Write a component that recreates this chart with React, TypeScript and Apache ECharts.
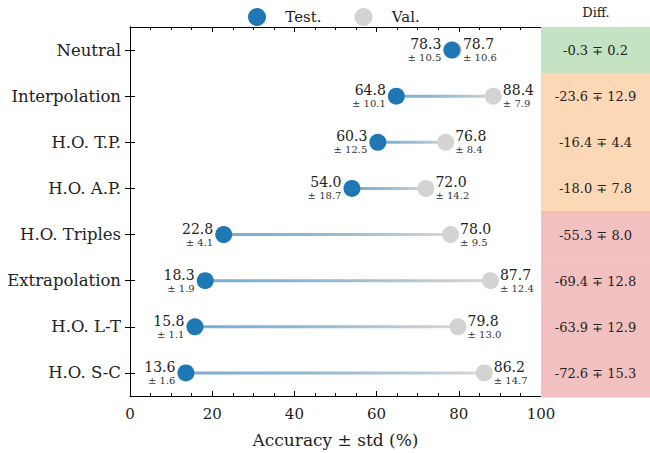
import React, { useEffect, useRef } from "react";
import * as echarts from "echarts";

const categories = ["Neutral", "Interpolation", "H.O. T.P.", "H.O. A.P.", "H.O. Triples", "Extrapolation", "H.O. L-T", "H.O. S-C"];
const testMean = [78.3, 64.8, 60.3, 54.0, 22.8, 18.3, 15.8, 13.6];
const testStd = [10.5, 10.1, 12.5, 18.7, 4.1, 1.9, 1.1, 1.6];
const valMean = [78.7, 88.4, 76.8, 72.0, 78.0, 87.7, 79.8, 86.2];
const valStd = [10.6, 7.9, 8.4, 14.2, 9.5, 12.4, 13.0, 14.7];
const diffMean = [-0.3, -23.6, -16.4, -18.0, -55.3, -69.4, -63.9, -72.6];
const diffStd = [0.2, 12.9, 4.4, 7.8, 8.0, 12.8, 12.9, 15.3];
const diffGroup = ["ok", "mid", "mid", "mid", "bad", "bad", "bad", "bad"];
const xTicks = [0, 20, 40, 60, 80, 100];

const SERIF = "DejaVu Serif";
const BLUE = "#1f77b4";
const GREY = "#d3d3d3";
const groupColor: Record<string, string> = { ok: "#c3e3c3", mid: "#fdd8b6", bad: "#f2c0c0" };

export default function App() {
  const ref = useRef<HTMLDivElement>(null);
  useEffect(() => {
    if (!ref.current) return;
    const chart = echarts.init(ref.current, null, { renderer: "svg" });
    const axisLine = { show: true, lineStyle: { color: "#000", width: 1 } };
    const option: any = {
      animation: false,
      backgroundColor: "#fff",
      textStyle: { fontFamily: SERIF },
      legend: {
        data: ["Test.", "Val."],
        top: 3,
        left: 243,
        icon: "circle",
        itemWidth: 18,
        itemHeight: 18,
        itemGap: 33,
        formatter: (n: string) => "   " + n,
        textStyle: { fontFamily: SERIF, fontSize: 15, color: "#222" },
      },
      graphic: [
        { type: "text", x: 596, y: 6, style: { text: "Diff.", fontFamily: SERIF, fontSize: 13, fill: "#222", textAlign: "center" } },
      ],
      grid: [
        { left: 130, right: 109, top: 27, bottom: 56 },
        { left: 541, right: 0, top: 27, bottom: 56 },
      ],
      xAxis: [
        {
          type: "value", gridIndex: 0, min: 0, max: 100, interval: 20,
          axisLine, axisTick: { show: true, inside: true, length: 5, lineStyle: { color: "#000" } },
          minorTick: { show: true, splitNumber: 4, length: 3, lineStyle: { color: "#000" } },
          splitLine: { show: false },
          axisLabel: { fontFamily: SERIF, fontSize: 15, color: "#222", margin: 10, customValues: xTicks },
          name: "Accuracy ± std (%)", nameLocation: "middle", nameGap: 35,
          nameTextStyle: { fontFamily: SERIF, fontSize: 17, color: "#222" },
        },
        {
          type: "value", gridIndex: 0, min: 0, max: 100, interval: 20, position: "top",
          axisLine, axisTick: { show: true, inside: true, length: 5, lineStyle: { color: "#000" } },
          minorTick: { show: true, splitNumber: 4, length: 3, lineStyle: { color: "#000" } },
          splitLine: { show: false }, axisLabel: { show: false },
        },
        { type: "value", gridIndex: 1, min: 0, max: 1, show: false },
      ],
      yAxis: [
        {
          type: "category", gridIndex: 0, data: categories, inverse: true,
          axisLine, axisTick: { show: true, inside: true, alignWithLabel: true, length: 5, lineStyle: { color: "#000" } },
          axisLabel: { fontFamily: SERIF, fontSize: 16.5, color: "#222", margin: 9 },
        },
        {
          type: "category", gridIndex: 0, data: categories, inverse: true, position: "right",
          axisLine, axisTick: { show: true, inside: true, alignWithLabel: true, length: 5, lineStyle: { color: "#000" } },
          axisLabel: { show: false },
        },
        { type: "category", gridIndex: 1, data: categories, inverse: true, show: false },
      ],
      series: [
        {
          type: "custom", xAxisIndex: 0, yAxisIndex: 0,
          data: categories.map((c, i) => [testMean[i], valMean[i], i]),
          encode: { x: [0, 1], y: 2 },
          renderItem: (params: any, api: any) => {
            const a = api.coord([api.value(0), api.value(2)]);
            const b = api.coord([api.value(1), api.value(2)]);
            const w = b[0] - a[0];
            if (Math.abs(w) < 1) return { type: "group", children: [] };
            return {
              type: "rect",
              shape: { x: a[0], y: a[1] - 1.5, width: w, height: 3 },
              style: {
                fill: new echarts.graphic.LinearGradient(0, 0, 1, 0, [
                  { offset: 0, color: "rgba(31,119,180,0.6)" },
                  { offset: 1, color: "rgba(211,211,211,0.9)" },
                ]),
              },
            };
          },
        },
        {
          name: "Val.", type: "scatter", xAxisIndex: 0, yAxisIndex: 0,
          data: valMean.map((v, i) => [v, categories[i]]),
          symbolSize: 17, itemStyle: { color: GREY, opacity: 1 },
          label: {
            show: true, position: "right", distance: 1,
            formatter: (p: any) => `{v|${valMean[p.dataIndex].toFixed(1)}}\n{s|± ${valStd[p.dataIndex].toFixed(1)}}`,
            rich: {
              v: { fontFamily: SERIF, fontSize: 14, color: "#222", lineHeight: 15, align: "left" },
              s: { fontFamily: SERIF, fontSize: 10, color: "#333", lineHeight: 12, align: "left" },
            },
          },
        },
        {
          name: "Test.", type: "scatter", xAxisIndex: 0, yAxisIndex: 0,
          data: testMean.map((v, i) => [v, categories[i]]),
          symbolSize: 17, itemStyle: { color: BLUE, opacity: 1 },
          label: {
            show: true, position: "left", distance: 2,
            formatter: (p: any) => `{v|${testMean[p.dataIndex].toFixed(1)}}\n{s|± ${testStd[p.dataIndex].toFixed(1)}}`,
            rich: {
              v: { fontFamily: SERIF, fontSize: 14, color: "#222", lineHeight: 15, align: "right" },
              s: { fontFamily: SERIF, fontSize: 10, color: "#333", lineHeight: 12, align: "right" },
            },
          },
        },
        {
          type: "custom", xAxisIndex: 2, yAxisIndex: 2,
          data: categories.map((c, i) => [0.5, i]),
          renderItem: (params: any, api: any) => {
            const i = params.dataIndex;
            const cs = params.coordSys;
            const c = api.coord([0.5, i]);
            const h = api.size([0, 1])[1];
            const children: any[] = [
              { type: "rect", shape: { x: cs.x, y: c[1] - h / 2, width: cs.width, height: h + 0.5 }, style: { fill: groupColor[diffGroup[i]] } },
              {
                type: "text", x: c[0], y: c[1],
                style: {
                  text: `${diffMean[i].toFixed(1)} ∓ ${diffStd[i].toFixed(1)}`,
                  fontFamily: SERIF, fontSize: 13, fill: "#222", textAlign: "center", textVerticalAlign: "middle",
                },
              },
            ];
            if (i > 0 && diffGroup[i] !== diffGroup[i - 1] && diffGroup[i] === "bad") {
              children.push({ type: "line", shape: { x1: cs.x, y1: c[1] - h / 2, x2: cs.x + cs.width, y2: c[1] - h / 2 }, style: { stroke: "#f4a98a", lineWidth: 1 } });
            }
            return { type: "group", children };
          },
        },
      ],
    };
    chart.setOption(option);
    return () => chart.dispose();
  }, []);
  return <div ref={ref} style={{ position: "fixed", left: 0, top: 0, width: 650, height: 453 }} />;
}
